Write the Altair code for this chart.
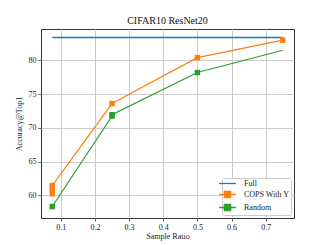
import altair as alt
import pandas as pd

# ---- data ----
series_names = ["Full", "COPS With Y", "Random"]
full_x = [0.075, 0.75]
full_y = [83.4, 83.4]
cops_x = [0.075, 0.075, 0.075, 0.25, 0.5, 0.75]
cops_y = [60.25, 60.85, 61.45, 73.6, 80.4, 83.0]
rand_x = [0.075, 0.25, 0.25, 0.5, 0.75]
rand_y = [58.35, 71.75, 71.95, 78.2, 81.5]
x_ticks = [0.1, 0.2, 0.3, 0.4, 0.5, 0.6, 0.7]
y_ticks = [60, 65, 70, 75, 80]
colors = ["#1f77b4", "#ff7f0e", "#2ca02c"]

rows = []
for name, xs, ys in [("Full", full_x, full_y), ("COPS With Y", cops_x, cops_y), ("Random", rand_x, rand_y)]:
    for i, (x, y) in enumerate(zip(xs, ys)):
        rows.append({"series": name, "ratio": x, "acc": y, "idx": i,
                     "last": i == len(xs) - 1})
df = pd.DataFrame(rows)

FONT = "Liberation Serif"

xenc = alt.X("ratio:Q", title="Sample Ratio",
             scale=alt.Scale(domain=[0.042, 0.783], nice=False, zero=False),
             axis=alt.Axis(values=x_ticks, format=".1f"))
yenc = alt.Y("acc:Q", title="Accuracy@Top1",
             scale=alt.Scale(domain=[56.65, 84.65], nice=False, zero=False),
             axis=alt.Axis(values=y_ticks))

line_only = "M-2.4,0H2.4"
line_sq = "M-2.4,0H2.4M-0.9,-0.9H0.9V0.9H-0.9Z"

legend = alt.Legend(
    title=None, orient="bottom-right", offset=3,
    fillColor="white", strokeColor="#cccccc", cornerRadius=2,
    padding=1, labelFont=FONT, labelFontSize=8, labelColor="#222",
    symbolSize=49, symbolStrokeWidth=1.3, rowPadding=0, symbolOpacity=1,
    labelOffset=12)

color = alt.Color("series:N",
                  scale=alt.Scale(domain=series_names, range=colors),
                  legend=legend)
shape = alt.Shape("series:N",
                  scale=alt.Scale(domain=series_names,
                                  range=[line_only, line_sq, line_sq]),
                  legend=legend)

base = alt.Chart(df)

full_line = base.transform_filter(alt.datum.series == "Full").mark_line(
    strokeWidth=1.6).encode(x=xenc, y=yenc, color=color, order="idx:Q")
other_lines = base.transform_filter(alt.datum.series != "Full").mark_line(
    strokeWidth=1.2).encode(x=xenc, y=yenc, color=color, order="idx:Q")
pts = base.transform_filter(
    "datum.series == 'COPS With Y' || (datum.series == 'Random' && !datum.last)"
).mark_square(size=30, opacity=1).encode(x=xenc, y=yenc, color=color)
legend_layer = base.mark_point(filled=True, opacity=0, size=0).encode(
    x=xenc, y=yenc, color=color, shape=shape)

chart = alt.layer(full_line, other_lines, pts, legend_layer).properties(
    width=253, height=189,
    title=alt.TitleParams("CIFAR10 ResNet20", font=FONT, fontSize=10,
                          fontWeight="normal", color="#111", offset=3),
    autosize=alt.AutoSizeParams(type="none"),
    padding={"left": 33, "top": 21, "right": 25, "bottom": 28},
).configure_view(stroke="#333", strokeWidth=1).configure_axis(
    grid=True, gridColor="#cccccc", gridWidth=1,
    domain=False, tickColor="#333", tickSize=3, tickWidth=0.8,
    labelFont=FONT, labelFontSize=8, labelColor="#222", labelPadding=2,
    titleFont=FONT, titleFontSize=8, titleFontWeight="normal", titleColor="#222",
).configure_axisX(titlePadding=1).configure_axisY(titlePadding=5)

chart.save("out.html", embed_options={"renderer": "svg", "actions": False})
